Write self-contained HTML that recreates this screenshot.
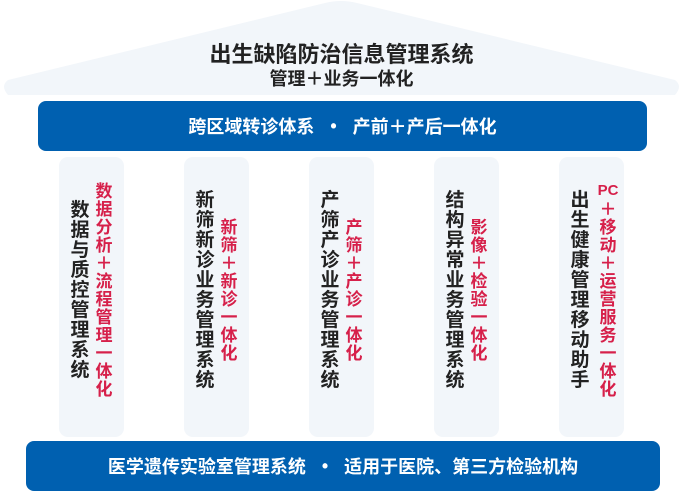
<!DOCTYPE html>
<html><head><meta charset="utf-8"><style>
*{margin:0;padding:0;box-sizing:border-box}
body{width:683px;height:492px;background:#fff;position:relative;overflow:hidden;font-family:"Liberation Sans","Noto Sans CJK SC",sans-serif;font-weight:bold}
.t{position:absolute;left:0;width:683px;text-align:center;color:#222}
.bar{position:absolute;background:#0060b0;border-radius:8px;color:#fff;font-size:18px;display:flex;align-items:center;justify-content:center}
.dot{margin:0 16px}
.p{position:absolute;top:157px;width:65px;height:280px;background:#f2f6fa;border-radius:9px}
.col{position:absolute;top:0;height:280px;display:flex;flex-direction:column;justify-content:center;align-items:center;transform:translateY(-6px)}
.col div{text-align:center;line-height:1}
.b div{font-size:19px;height:20px;color:#222;width:22px}
.r div{font-size:17px;height:18px;color:#d6204a;width:22px}
.b{left:10px}.r{left:34px}
</style></head><body>
<svg width="683" height="100" style="position:absolute;left:0;top:0">
<path d="M8,80 L325,3 Q341,-1 357,3 L675,80 Q683,86 675,95 L8,95 Q0,86 8,80 Z" fill="#f2f6fa"/>
</svg>
<div class="t" style="top:37px;font-size:22px">出生缺陷防治信息管理系统</div>
<div class="t" style="top:65px;font-size:18px">管理＋业务一体化</div>
<div class="bar" style="left:38px;top:101px;width:609px;height:50px">跨区域转诊体系<span class="dot">•</span>产前＋产后一体化</div>
<div class="bar" style="left:26px;top:441px;width:634px;height:50px">医学遗传实验室管理系统<span class="dot">•</span>适用于医院、第三方检验机构</div>

<div class="p" style="left:59px">
<div class="col b"><div>数</div><div>据</div><div>与</div><div>质</div><div>控</div><div>管</div><div>理</div><div>系</div><div>统</div></div>
<div class="col r"><div>数</div><div>据</div><div>分</div><div>析</div><div>＋</div><div>流</div><div>程</div><div>管</div><div>理</div><div>一</div><div>体</div><div>化</div></div>
</div>
<div class="p" style="left:184px">
<div class="col b"><div>新</div><div>筛</div><div>新</div><div>诊</div><div>业</div><div>务</div><div>管</div><div>理</div><div>系</div><div>统</div></div>
<div class="col r"><div>新</div><div>筛</div><div>＋</div><div>新</div><div>诊</div><div>一</div><div>体</div><div>化</div></div>
</div>
<div class="p" style="left:309px">
<div class="col b"><div>产</div><div>筛</div><div>产</div><div>诊</div><div>业</div><div>务</div><div>管</div><div>理</div><div>系</div><div>统</div></div>
<div class="col r"><div>产</div><div>筛</div><div>＋</div><div>产</div><div>诊</div><div>一</div><div>体</div><div>化</div></div>
</div>
<div class="p" style="left:434px">
<div class="col b"><div>结</div><div>构</div><div>异</div><div>常</div><div>业</div><div>务</div><div>管</div><div>理</div><div>系</div><div>统</div></div>
<div class="col r"><div>影</div><div>像</div><div>＋</div><div>检</div><div>验</div><div>一</div><div>体</div><div>化</div></div>
</div>
<div class="p" style="left:559px">
<div class="col b"><div>出</div><div>生</div><div>健</div><div>康</div><div>管</div><div>理</div><div>移</div><div>动</div><div>助</div><div>手</div></div>
<div class="col r"><div style="font-size:15px;width:30px">PC</div><div>＋</div><div>移</div><div>动</div><div>＋</div><div>运</div><div>营</div><div>服</div><div>务</div><div>一</div><div>体</div><div>化</div></div>
</div>
</body></html>
